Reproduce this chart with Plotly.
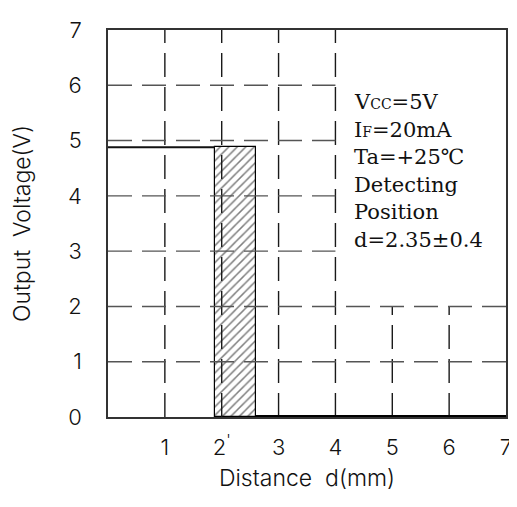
import plotly.graph_objects as go

# Data
x_ticks = [1, 2, 3, 4, 5, 6, 7]
x_tick_labels = ["1", "2<sup>'</sup>", "3", "4", "5", "6", "7"]
y_ticks = [0, 1, 2, 3, 4, 5, 6, 7]
high_level = 4.88
high_x = [0, 1.88]
detect_start = 1.88
detect_end = 2.6
low_x = [2.6, 7]
low_level = 0

# grid segments (x position, y extent) and (y position, x extent)
vgrid = {1: (0, 7), 2: (0, 7), 3: (0, 7), 4: (0, 7), 5: (0, 2), 6: (0, 2)}
hgrid = {1: (0, 7), 2: (0, 7), 3: (0, 4), 4: (0, 4), 5: (0, 4), 6: (0, 4)}

notes = ["V<span style='font-size:14px'>CC</span>=5V",
         "I<span style='font-size:14px'>F</span>=20mA",
         "Ta=+25℃", "Detecting", "Position", "d=2.35±0.4"]

SANS = "Inter, Roboto, DejaVu Sans"

fig = go.Figure()
for xv, (y0, y1) in vgrid.items():
    fig.add_trace(go.Scatter(x=[xv, xv], y=[y0, y1], mode="lines",
                             line=dict(color="#1a1a1a", width=1.4, dash="24px,10px"),
                             hoverinfo="skip", showlegend=False))
for yv, (x0, x1) in hgrid.items():
    fig.add_trace(go.Scatter(x=[x0, x1], y=[yv, yv], mode="lines",
                             line=dict(color="#555", width=1.4, dash="24px,10px"),
                             hoverinfo="skip", showlegend=False))

fig.add_trace(go.Bar(x=[(detect_start + detect_end) / 2], y=[high_level],
                     width=[detect_end - detect_start], base=0, opacity=1,
                     marker=dict(color="rgba(0,0,0,0)", line=dict(color="black", width=1.2),
                                 pattern=dict(shape="/", size=6, solidity=0.25,
                                              fgcolor="black", bgcolor="rgba(0,0,0,0)")),
                     showlegend=False, hoverinfo="skip"))
fig.add_trace(go.Scatter(x=high_x, y=[high_level, high_level], mode="lines",
                         line=dict(color="#111", width=2), showlegend=False))
fig.add_trace(go.Scatter(x=low_x, y=[low_level, low_level], mode="lines",
                         line=dict(color="black", width=4), showlegend=False, cliponaxis=False))

for i, t in enumerate(notes):
    fig.add_annotation(x=4.3, y=5.7 - i * 0.5, xref="x", yref="y", text=t,
                       showarrow=False, xanchor="left", yanchor="middle",
                       font=dict(family="DejaVu Serif", size=21, color="#111"))

fig.update_layout(
    width=509, height=499,
    margin=dict(l=100, r=11, t=22, b=90, autoexpand=False),
    paper_bgcolor="white", plot_bgcolor="white",
    bargap=0,
    font=dict(family=SANS, size=22, color="#111", weight=300),
    xaxis=dict(range=[0, 7], tickvals=x_ticks, ticktext=x_tick_labels,
               showgrid=False, zeroline=False, showline=True, mirror=True,
               linecolor="#333", linewidth=1.5, ticks="", ticklabelstandoff=10,
               automargin=False, tickfont=dict(weight=300),
               title=dict(text="Distance  d(mm)", font=dict(size=23, weight=300), standoff=11)),
    yaxis=dict(range=[0, 7], tickvals=y_ticks,
               showgrid=False, zeroline=False, showline=True, mirror=True,
               linecolor="#333", linewidth=1.5, ticks="", ticklabelstandoff=20,
               automargin=False, tickfont=dict(weight=300),
               title=dict(text="Output  Voltage(V)", font=dict(size=23, weight=300), standoff=32)),
)

fig.write_html("out.html")
